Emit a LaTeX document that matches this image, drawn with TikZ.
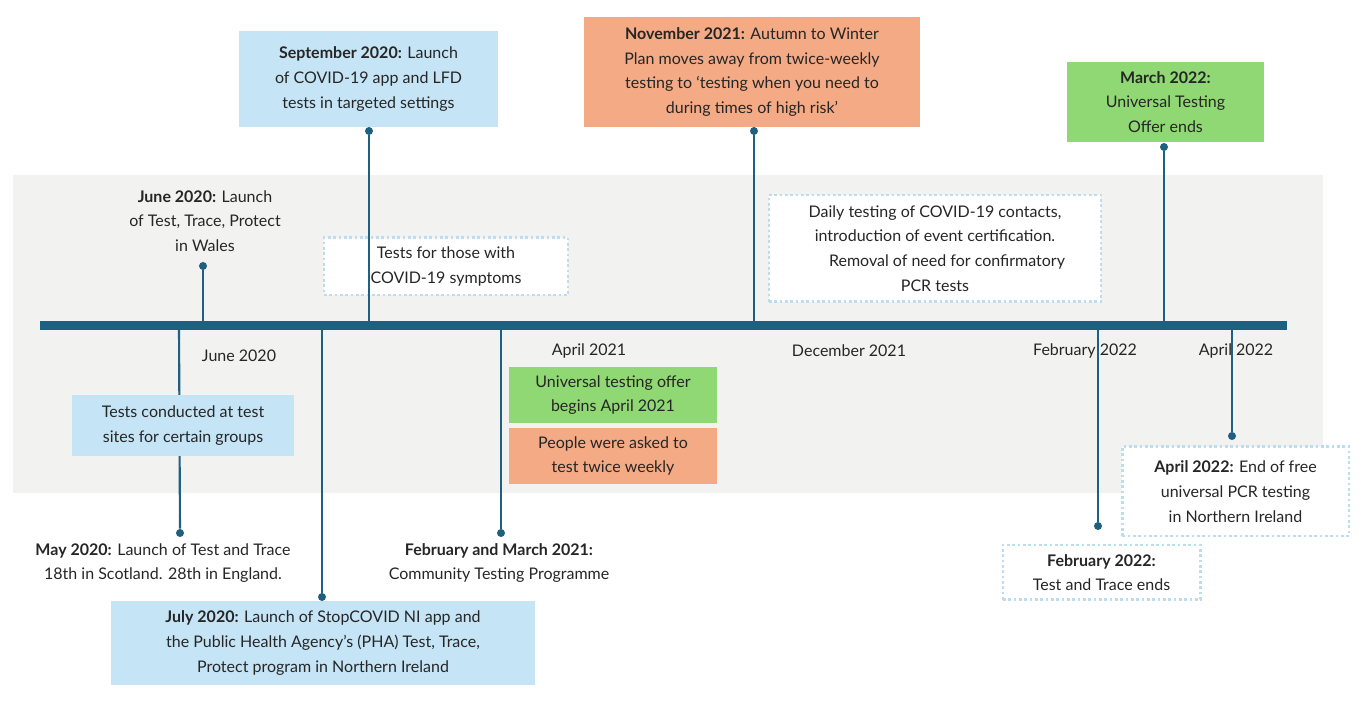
\documentclass[tikz,border=0pt]{standalone}
\usepackage{fontspec}
\setmainfont{Lato}
\definecolor{bar}{HTML}{1F5F80}
\definecolor{lblue}{HTML}{C5E4F5}
\definecolor{dblue}{HTML}{BCDDEF}
\definecolor{orng}{HTML}{F4AA84}
\definecolor{grn}{HTML}{8FD873}
\definecolor{band}{HTML}{F2F2F0}
\tikzset{
 box/.style={inner sep=2pt,align=center,font=\fontsize{12}{18.5}\selectfont,text=black!85},
 dbox/.style={box,draw=dblue,dotted,line width=2pt,fill=white},
 lbl/.style={box},
 conn/.style={draw=bar,line width=1.6pt},
 dot/.style={circle,fill=bar,inner sep=0pt,minimum size=6pt},
}
\begin{document}
\begin{tikzpicture}[x=0.75pt,y=-0.75pt]
\useasboundingbox (0,0) rectangle (1365,705);
\fill[band] (13,175) rectangle (1323,493);
% boxes
\node[box,fill=lblue,minimum width=194pt,minimum height=72pt] (sep) at (368.5,79) {\textbf{September 2020:} Launch\\of COVID-19 app and LFD\\tests in targeted settings};
\node[lbl] (jun) at (205,221) {\textbf{June 2020:} Launch\\of Test, Trace, Protect\\in Wales};
\node[dbox,minimum width=183pt,minimum height=43pt] (sym) at (446,266.5) {Tests for those with\\COVID-19 symptoms};
\node[box,fill=orng,minimum width=252pt,minimum height=82.5pt] (nov) at (752,72) {\textbf{November 2021:} Autumn to Winter\\Plan moves away from twice-weekly\\testing to ‘testing when you need to\\during times of high risk’};
\node[dbox,minimum width=249pt,minimum height=80pt] (daily) at (935,248.5) {Daily testing of COVID-19 contacts,\\introduction of event certification.\\\hspace*{1.5em}Removal of need for confirmatory\\PCR tests};
\node[box,fill=grn,minimum width=148pt,minimum height=60pt] (mar) at (1165.5,102) {\textbf{March 2022:}\\Universal Testing\\Offer ends};
\node[box,fill=lblue,minimum width=166.5pt,minimum height=46pt] (sites) at (183,425.5) {Tests conducted at test\\sites for certain groups};
\node[box,fill=lblue,minimum width=318pt,minimum height=63pt] (jul) at (323,643) {\textbf{July 2020:} Launch of StopCOVID NI app and\\the Public Health Agency’s (PHA) Test, Trace,\\Protect program in Northern Ireland};
\node[box,fill=grn,minimum width=156pt,minimum height=42pt] (uni) at (613,395) {Universal testing offer\\begins April 2021};
\node[box,fill=orng,minimum width=156pt,minimum height=42pt] (twice) at (613,456) {People were asked to\\test twice weekly};
\node[lbl] (may) at (163,563) {\textbf{May 2020:} Launch of Test and Trace\\18th in Scotland. 28th in England.};
\node[lbl] (feb21) at (499,563) {\textbf{February and March 2021:}\\Community Testing Programme};
\node[dbox,minimum width=148pt,minimum height=41pt] (feb22) at (1101.5,572.5) {\textbf{February 2022:}\\Test and Trace ends};
\node[dbox,minimum width=170pt,minimum height=67pt] (apr22) at (1235.5,491.5) {\textbf{April 2022:} End of free\\universal PCR testing\\in Northern Ireland};
% date labels
\node[lbl] (l1) at (239,356) {June 2020};
\node[lbl] (l2) at (589,351) {April 2021};
\node[lbl] (l3) at (849,351) {December 2021};
\node[lbl] (l4) at (1085,351) {February 2022};
\node[lbl] (l5) at (1236,351) {April 2022};
% bar coordinates
\coordinate (b0) at (40,326); \coordinate (b1) at (1287,326);
\foreach \n/\x in {a/179,b/203,c/322,d/369,e/501,f/754,g/1098,h/1164,i/1232} \coordinate (bar\n) at (\x,326);
% dots
\node[dot] (dsep) at (369,131) {};
\node[dot] (djun) at (203,266) {};
\node[dot] (dnov) at (754,131) {};
\node[dot] (dmar) at (1164,147) {};
\node[dot] (dmay) at (180,533) {};
\node[dot] (djul) at (322,597) {};
\node[dot] (dfeb21) at (501,533) {};
\node[dot] (dfeb22) at (1098,526) {};
\node[dot] (dapr22) at (1232,436) {};
% connectors
\draw[conn] (dsep) -- (bard);
\draw[conn] (djun) -- (barb);
\draw[conn] (dnov) -- (barf);
\draw[conn] (dmar) -- (barh);
\draw[conn] (bara) -- (dmay);
\draw[conn] (barc) -- (djul);
\draw[conn] (bare) -- (dfeb21);
\draw[conn] (barg) -- (dfeb22);
\draw[conn] (bari) -- (dapr22);
\node[box,fill=lblue,minimum width=166.5pt,minimum height=46pt] at (sites) {Tests conducted at test\\sites for certain groups};
\draw[bar,line width=6.75pt] (b0) -- (b1);
\end{tikzpicture}
\end{document}
